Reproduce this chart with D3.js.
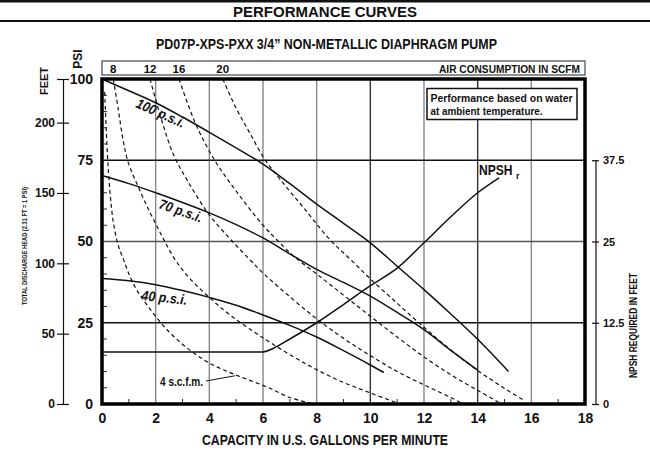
<!DOCTYPE html>
<html>
<head>
<meta charset="utf-8">
<script src="https://cdn.jsdelivr.net/npm/d3@7"></script>
<style>
  body { margin: 0; background: #fff; }
  text { fill: #111; }
</style>
</head>
<body>
<div id="chart"></div>
<script>
// Chart values
var gpmTicks = [0, 2, 4, 6, 8, 10, 12, 14, 16, 18];
var psiTicks = [0, 25, 50, 75, 100];
var feetTicks = [0, 50, 100, 150, 200];
var npshTicks = [0, 12.5, 25, 37.5];

// solid pressure curves [gpm, psi]
var psi100 = [[0,100],[1,96.4],[2,92.7],[3,88.3],[4,83.6],[5,78.8],[6,73.8],[7,67.8],[8,61.5],[9,55.6],[10,49.6],[11,42.4],[12,35.2],[13,27.7],[14,19.9],[15.15,10]];
var psi70 = [[0,70.3],[1,67.8],[2,65],[3,62],[4,58.8],[5,55.2],[6,51.1],[7,46.2],[8,41.4],[9,37.4],[10,33.2],[11,28.2],[12,22.9],[13,16.5],[14,10.4]];
var psi40 = [[0,38.6],[1,37.9],[2,36.7],[3,34.9],[4,32.8],[5,30.4],[6,27.4],[7,24.2],[8,20.6],[9,16.4],[10,12],[10.5,9.7]];

// dashed air consumption curves [gpm, psi]
var scfm4 = [[0.1,96],[0.2,77],[0.3,65],[0.42,56],[0.6,49],[0.8,44.5],[1.03,39.5],[1.3,35],[1.72,30],[2.34,23.6],[3.1,17.7],[4,12.6],[5,8.9],[6.1,5.4],[7,2],[7.9,0]];
var scfm8 = [[0.42,100],[0.6,91],[0.78,81.5],[0.97,74.5],[1.34,67],[1.72,60.1],[2.09,54],[2.34,50],[2.71,44.6],[3.21,39.2],[4.08,32.2],[4.83,27],[5.7,22],[6.27,18.9],[7.52,12.7],[8.76,7.5],[10,3.4],[11.1,0]];
var scfm12 = [[1.79,100],[2.2,88],[2.65,77],[3.2,68.5],[4,58.2],[4.83,50.3],[5.5,44.5],[6,40.3],[7,33],[8,26.2],[9,20.2],[10,14.9],[11,10],[12,5.9],[13,2],[13.45,0]];
var scfm16 = [[2.87,100],[3.5,86],[4.2,75],[5,65.5],[6,55],[6.52,50.5],[7.14,45.5],[8,40],[9,33.5],[10,27],[11,20.6],[12,14.5],[13,9],[14,4.2],[14.9,0]];
var scfm20 = [[4.5,100],[5,91],[5.5,83.5],[6.05,75.5],[6.65,69],[7.5,60.5],[8.5,50.5],[9.26,44.5],[10,38.5],[11,31],[12,23.6],[13,16.6],[14,10.3],[15,4.8],[15.7,1.2]];

// NPSH required [gpm, feet]
var npsh = [[0,8],[6,8],[6.35,8.5],[7,10],[8,12.5],[9,15.3],[10,18.2],[11,20.9],[12,24.8],[13,28.8],[14,32.5],[14.8,34.8]];

var topLabels = ["8", "12", "16", "20"];
var topCurves = [scfm8, scfm12, scfm16, scfm20];

var FONT = "'Liberation Sans',Arial,sans-serif";
var width = 650, height = 460;

var svg = d3.select("#chart").append("svg")
    .attr("width", width)
    .attr("height", height)
    .style("font-family", FONT)
    .style("font-weight", "bold");

// squeeze text to the narrow width of the original lettering
function fit(sel, w) {
  return sel.attr("textLength", w).attr("lengthAdjust", "spacingAndGlyphs");
}

// Scales
var x = d3.scaleLinear().domain([0, 18]).range([102, 585]);
var y = d3.scaleLinear().domain([0, 100]).range([404, 79]);
var yFeet = d3.scaleLinear().domain([0, 231]).range([404, 79]);
var yNpsh = d3.scaleLinear().domain([0, 50]).range([404, 79]);

// Header
svg.append("line").attr("x1", 0).attr("x2", width).attr("y1", 1.2).attr("y2", 1.2)
    .attr("stroke", "#111").attr("stroke-width", 2.5);
svg.append("line").attr("x1", 0).attr("x2", width).attr("y1", 21).attr("y2", 21)
    .attr("stroke", "#111").attr("stroke-width", 2);
svg.append("text")
    .attr("x", 325).attr("y", 16.5)
    .attr("text-anchor", "middle")
    .style("font-size", "15px")
    .text("PERFORMANCE CURVES");

fit(svg.append("text")
    .attr("x", 156).attr("y", 49)
    .style("font-size", "14px")
    .text("PD07P-XPS-PXX  3/4\u201D NON-METALLIC DIAPHRAGM PUMP"), 341);

// Air consumption bar
svg.append("rect")
    .attr("x", x(0)).attr("y", 61)
    .attr("width", x(18) - x(0)).attr("height", 14)
    .attr("fill", "none").attr("stroke", "#444").attr("stroke-width", 1.2);

svg.selectAll(".topLabel").data(topLabels).enter()
    .append("text")
    .attr("class", "topLabel")
    .attr("x", function(d, i) { return x(topCurves[i][0][0]); })
    .attr("y", 72.5)
    .attr("text-anchor", "middle")
    .style("font-size", "11.5px")
    .text(function(d) { return d; });

fit(svg.append("text")
    .attr("x", 439).attr("y", 72.5)
    .style("font-size", "11.5px")
    .text("AIR CONSUMPTION IN SCFM"), 141);

// Grid
var grid = svg.append("g").attr("class", "grid");
grid.selectAll(".vgrid").data(d3.range(2, 18, 2)).enter()
    .append("line")
    .attr("x1", function(d) { return x(d); })
    .attr("x2", function(d) { return x(d); })
    .attr("y1", y(100)).attr("y2", y(0))
    .attr("stroke", function(d) { return (d === 10 || d === 14) ? "#333" : "#888"; })
    .attr("stroke-width", 1.4);

grid.selectAll(".hgrid").data([25, 50, 75]).enter()
    .append("line")
    .attr("x1", x(0)).attr("x2", x(18))
    .attr("y1", function(d) { return y(d); })
    .attr("y2", function(d) { return y(d); })
    .attr("stroke", function(d) { return d === 50 ? "#555" : "#111"; })
    .attr("stroke-width", 1.3);

// minor ticks inside frame
grid.selectAll(".xminor").data(d3.range(1, 18, 2)).enter()
    .append("line")
    .attr("x1", function(d) { return x(d); })
    .attr("x2", function(d) { return x(d); })
    .attr("y1", y(0)).attr("y2", y(0) - 5)
    .attr("stroke", "#333").attr("stroke-width", 1);

grid.selectAll(".yminor").data(d3.range(5, 100, 5).filter(function(d) { return d % 25 !== 0; })).enter()
    .append("line")
    .attr("x1", x(0)).attr("x2", x(0) + 5)
    .attr("y1", function(d) { return y(d); })
    .attr("y2", function(d) { return y(d); })
    .attr("stroke", "#333").attr("stroke-width", 1);

// Curves
var line = d3.line()
    .x(function(d) { return x(d[0]); })
    .y(function(d) { return y(d[1]); })
    .curve(d3.curveMonotoneX);

var dashLine = d3.line()
    .x(function(d) { return x(d[0]); })
    .y(function(d) { return y(d[1]); })
    .curve(d3.curveCatmullRom.alpha(0.5));

var npshLine = d3.line()
    .x(function(d) { return x(d[0]); })
    .y(function(d) { return yNpsh(d[1]); })
    .curve(d3.curveMonotoneX);

[scfm4, scfm8, scfm12, scfm16, scfm20].forEach(function(s) {
  svg.append("path")
      .datum(s)
      .attr("d", dashLine)
      .attr("fill", "none")
      .attr("stroke", "#111")
      .attr("stroke-width", 1.2)
      .attr("stroke-dasharray", "4,3");
});

[psi100, psi70, psi40].forEach(function(s) {
  svg.append("path")
      .datum(s)
      .attr("d", line)
      .attr("fill", "none")
      .attr("stroke", "#111")
      .attr("stroke-width", 1.5);
});

svg.append("path")
    .datum(npsh)
    .attr("d", npshLine)
    .attr("fill", "none")
    .attr("stroke", "#111")
    .attr("stroke-width", 1.5);

// Frame
svg.append("rect")
    .attr("x", x(0)).attr("y", y(100))
    .attr("width", x(18) - x(0)).attr("height", y(0) - y(100))
    .attr("fill", "none").attr("stroke", "#000").attr("stroke-width", 3.5);

// Curve labels
function curveLabel(txt, px, py, angle, size, w) {
  fit(svg.append("text")
      .attr("transform", "translate(" + px + "," + py + ") rotate(" + angle + ")")
      .style("font-size", size + "px")
      .style("font-style", "italic")
      .text(txt), w);
}
curveLabel("100 p.s.i.", 135, 107, 24, 14, 52);
curveLabel("70 p.s.i.", 158, 208, 19, 14, 45);
curveLabel("40 p.s.i.", 141, 300, 6, 14, 46);

// NPSHr: narrow lettering by horizontal scaling, subscript placed clear of it
svg.append("g")
    .attr("transform", "translate(479,175) scale(0.78,1)")
    .append("text")
    .style("font-size", "15.5px")
    .text("NPSH");
svg.append("text")
    .attr("x", 516).attr("y", 179)
    .style("font-size", "9px")
    .text("r");

fit(svg.append("text")
    .attr("x", 160).attr("y", 385.5)
    .style("font-size", "12px")
    .text("4 s.c.f.m."), 43);
svg.append("line")
    .attr("x1", 206).attr("y1", 381)
    .attr("x2", x(4.96)).attr("y2", y(9) + 1)
    .attr("stroke", "#111").attr("stroke-width", 1);

// Note box
svg.append("rect")
    .attr("x", 427).attr("y", 88.5)
    .attr("width", 150).attr("height", 31)
    .attr("fill", "#fff").attr("stroke", "#111").attr("stroke-width", 1.5);
fit(svg.append("text").attr("x", 430.5).attr("y", 101.5)
    .style("font-size", "11.5px").text("Performance based on water"), 142);
fit(svg.append("text").attr("x", 430.5).attr("y", 115)
    .style("font-size", "11.5px").text("at ambient temperature."), 112);

// Axes
var xAxis = d3.axisBottom(x).tickValues(gpmTicks).tickSize(0).tickPadding(9);
svg.append("g")
    .attr("class", "xAxis")
    .attr("transform", "translate(0," + y(0) + ")")
    .call(xAxis)
    .call(function(g) { g.select(".domain").remove(); })
    .selectAll("text")
    .style("font-family", FONT).style("font-weight", "bold")
    .style("font-size", "14px").attr("fill", "#111");

var psiAxis = d3.axisLeft(y).tickValues(psiTicks).tickSize(0).tickPadding(9);
svg.append("g")
    .attr("class", "psiAxis")
    .attr("transform", "translate(" + x(0) + ",0)")
    .call(psiAxis)
    .call(function(g) { g.select(".domain").remove(); })
    .selectAll("text")
    .style("font-family", FONT).style("font-weight", "bold")
    .style("font-size", "14px").attr("fill", "#111");

var feetAxis = d3.axisLeft(yFeet)
    .tickValues(feetTicks.concat([231]))
    .tickSizeOuter(0)
    .tickSizeInner(6)
    .tickPadding(3)
    .tickFormat(function(d) { return d === 231 ? "" : d; });
var feetG = svg.append("g")
    .attr("class", "feetAxis")
    .attr("transform", "translate(63,0)")
    .call(feetAxis);
feetG.selectAll(".tick line").attr("x1", 6).attr("x2", -6).attr("stroke", "#111").attr("stroke-width", 1.2);
feetG.select(".domain").attr("stroke", "#111").attr("stroke-width", 1.2);
feetG.selectAll("text")
    .attr("x", -8)
    .style("font-family", FONT).style("font-weight", "bold")
    .style("font-size", "12px").attr("fill", "#111");

var npshAxis = d3.axisRight(yNpsh).tickValues(npshTicks).tickSize(3).tickPadding(4)
    .tickFormat(function(d) { return d; });
var npshG = svg.append("g")
    .attr("class", "npshAxis")
    .attr("transform", "translate(596,0)")
    .call(npshAxis);
npshG.select(".domain").remove();
npshG.selectAll(".tick line").attr("x1", -4).attr("stroke", "#111").attr("stroke-width", 1.2);
npshG.selectAll("text")
    .style("font-family", FONT).style("font-weight", "bold")
    .style("font-size", "11px").attr("fill", "#111");
npshG.append("line")
    .attr("x1", 0).attr("x2", 0)
    .attr("y1", yNpsh(0)).attr("y2", yNpsh(37.5))
    .attr("stroke", "#111").attr("stroke-width", 1.2);

// Axis titles
fit(svg.append("text")
    .attr("x", 202).attr("y", 445)
    .style("font-size", "14.5px")
    .text("CAPACITY IN U.S. GALLONS PER MINUTE"), 246);

svg.append("text")
    .attr("transform", "translate(82,59) rotate(-90)")
    .attr("text-anchor", "middle")
    .style("font-size", "12px")
    .text("PSI");

svg.append("text")
    .attr("transform", "translate(48,81) rotate(-90)")
    .attr("text-anchor", "middle")
    .style("font-size", "11px")
    .text("FEET");

fit(svg.append("text")
    .attr("transform", "translate(27,305) rotate(-90)")
    .style("font-size", "6.5px")
    .text("TOTAL DISCHARGE HEAD (2.31 FT = 1 PSI)"), 118);

fit(svg.append("text")
    .attr("transform", "translate(637,378) rotate(-90)")
    .style("font-size", "11.5px")
    .text("NPSH REQUIRED IN FEET"), 105);
</script>
</body>
</html>
